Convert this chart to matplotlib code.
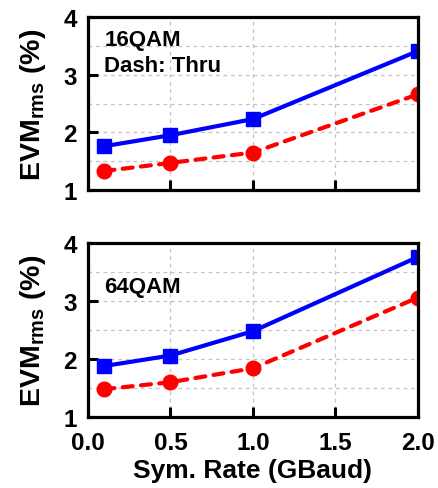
import matplotlib
matplotlib.use("Agg")
import matplotlib.pyplot as plt

plt.rcParams['font.family'] = ['Liberation Sans', 'DejaVu Sans']
plt.rcParams['font.weight'] = 'bold'
plt.rcParams['mathtext.fontset'] = 'custom'
plt.rcParams['mathtext.rm'] = 'Liberation Sans:bold'
plt.rcParams['mathtext.bf'] = 'Liberation Sans:bold'
plt.rcParams['mathtext.default'] = 'bf'

sym_rate = [0.1, 0.5, 1.0, 2.0]
evm_16qam_dut = [1.76, 1.95, 2.23, 3.41]
evm_16qam_thru = [1.33, 1.47, 1.65, 2.66]
evm_64qam_dut = [1.88, 2.06, 2.48, 3.76]
evm_64qam_thru = [1.48, 1.60, 1.84, 3.06]
x_ticklabels = ['0.0', '0.5', '1.0', '1.5', '2.0']

# (annotation lines with their baseline y in data units, blue series, red series)
panels = [
    ([("16QAM", 3.51), ("Dash: Thru", 3.07)], evm_16qam_dut, evm_16qam_thru),
    ([("64QAM", 3.15)], evm_64qam_dut, evm_64qam_thru),
]

fig = plt.figure(figsize=(4.39, 4.89), dpi=100)
W, H = 439, 489
boxes = [(88, 18, 418, 191), (88, 244, 418, 418)]

for i, ((lines, dut, thru), (x0, y0, x1, y1)) in enumerate(zip(panels, boxes)):
    ax = fig.add_axes([x0 / W, 1 - y1 / H, (x1 - x0) / W, (y1 - y0) / H])
    ax.plot(sym_rate, dut, '-', color='#0000ff', lw=3, marker='s', ms=10,
            zorder=2)
    ax.plot(sym_rate, thru, '--', color='#ff0000', lw=3, marker='o', ms=10.5,
            dashes=(2.4, 2.0), dash_capstyle='round', zorder=2)
    ax.set_xlim(0, 2)
    ax.set_ylim(1, 4)
    ax.set_xticks([0, 0.5, 1.0, 1.5, 2.0])
    ax.set_yticks([1, 2, 3, 4])
    ax.set_yticks([1.5, 2.5, 3.5], minor=True)
    ax.grid(True, which='both', color='#c4c4c4', ls=(0, (3, 3)), lw=0.9,
            zorder=0)
    ax.set_axisbelow(True)
    ax.tick_params(which='major', direction='in', length=7, width=2.2,
                   labelsize=17.5)
    ax.tick_params(axis='x', pad=10)
    ax.tick_params(axis='y', pad=8)
    ax.tick_params(which='minor', length=0)
    for s in ax.spines.values():
        s.set_linewidth(2.3)
        s.set_zorder(3)
    ax.set_ylabel(r'EVM$_{\mathbf{rms}}$ (%)', fontsize=20.5, fontweight='bold',
                  labelpad=11)
    for text, yb in lines:
        ax.text(0.1, yb, text, fontsize=16, fontweight='bold',
                va='baseline', ha='left')
    for t in ax.get_xticklabels() + ax.get_yticklabels():
        t.set_fontweight('bold')
    if i == 1:
        ax.set_xticklabels(x_ticklabels)
        ax.set_xlabel('Sym. Rate (GBaud)', fontsize=19, fontweight='bold',
                      labelpad=3)
    else:
        ax.set_xticklabels([])

fig.savefig('out.png', dpi=100)
